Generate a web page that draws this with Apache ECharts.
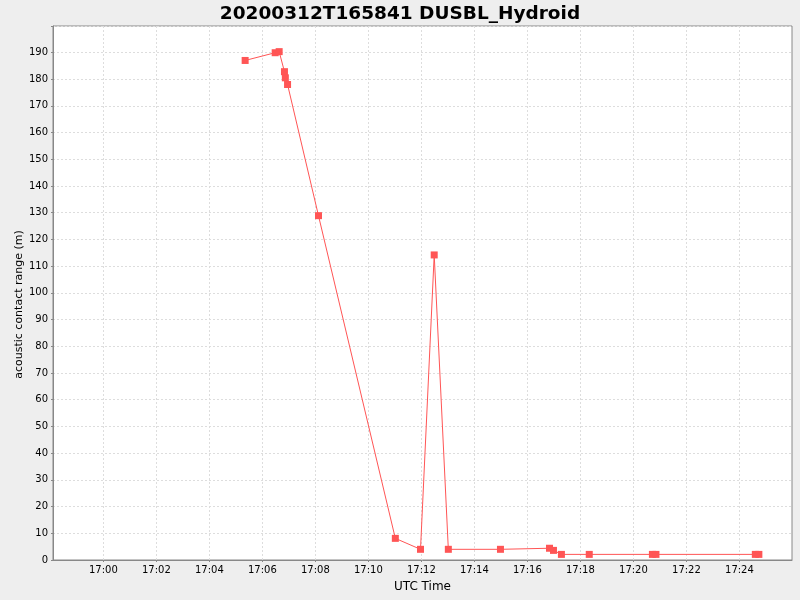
<!DOCTYPE html>
<html>
<head>
<meta charset="utf-8">
<script src="https://cdn.jsdelivr.net/npm/echarts@6/dist/echarts.min.js"></script>
<style>
  html, body { margin: 0; padding: 0; background: #eeeeee; }
  #main { width: 800px; height: 600px; }
</style>
</head>
<body>
<div id="main"></div>
<script>
'use strict';

/* ===== data (UTC, 2020-03-12) ===== */
var day = '2020-03-12';
var times = [
  '17:05:21', '17:06:29', '17:06:38', '17:06:50', '17:06:52', '17:06:57',
  '17:08:07', '17:11:01', '17:11:58', '17:12:29', '17:13:01', '17:14:59',
  '17:16:50', '17:16:59', '17:17:17', '17:18:20', '17:20:43', '17:20:51',
  '17:24:36', '17:24:44'
];
var ranges = [
  187, 189.9, 190.3, 182.8, 180.5, 178,
  128.9, 8.1, 4.0, 114.2, 4.0, 4.0,
  4.4, 3.6, 2.1, 2.1, 2.1, 2.1,
  2.1, 2.1
];
var tickTimes = [
  '17:00', '17:02', '17:04', '17:06', '17:08', '17:10', '17:12',
  '17:14', '17:16', '17:18', '17:20', '17:22', '17:24'
];
var axisStart = '16:58:06';
var axisEnd = '17:25:59';

function toMs(t) {
  if (t.length === 5) t = t + ':00';
  return Date.parse(day + 'T' + t + 'Z');
}

function pad(n) { return n < 10 ? '0' + n : '' + n; }

var points = times.map(function (t, i) { return [toMs(t), ranges[i]]; });
var tickValues = tickTimes.map(toMs);

var gridColor = '#dddddd';
var axisColor = '#888888';
var font = 'DejaVu Sans';

var myChart = echarts.init(document.getElementById('main'));

var option = {
  backgroundColor: '#eeeeee',
  animation: false,
  title: {
    text: '20200312T165841 DUSBL_Hydroid',
    left: 'center',
    top: 0,
    textStyle: { fontFamily: font, fontSize: 18.5, fontWeight: 'bold', color: '#000' }
  },
  grid: {
    left: 53, right: 8, top: 26, bottom: 40,
    outerBoundsMode: 'none',
    containLabel: false,
    show: true,
    backgroundColor: '#ffffff',
    borderColor: axisColor,
    borderWidth: 1
  },
  xAxis: {
    type: 'value',
    min: toMs(axisStart),
    max: toMs(axisEnd),
    name: 'UTC Time',
    nameLocation: 'middle',
    nameGap: 21,
    nameTextStyle: { fontFamily: font, fontSize: 12, color: '#000' },
    axisLine: { lineStyle: { color: axisColor } },
    axisTick: { show: true, length: 2, customValues: tickValues, lineStyle: { color: axisColor } },
    axisLabel: {
      customValues: tickValues,
      fontFamily: font, fontSize: 10, color: '#000', margin: 5,
      formatter: function (v) {
        var d = new Date(v);
        return pad(d.getUTCHours()) + ':' + pad(d.getUTCMinutes());
      }
    },
    splitLine: { show: true, lineStyle: { color: gridColor, type: [2, 2] } }
  },
  yAxis: {
    type: 'value',
    min: 0,
    max: 199.9,
    interval: 10,
    name: 'acoustic contact range (m)',
    nameLocation: 'middle',
    nameGap: 28,
    nameMoveOverlap: false,
    nameTextStyle: { fontFamily: font, fontSize: 11, color: '#000', padding: [0, 23, 0, 0] },
    axisLine: { show: true, lineStyle: { color: axisColor } },
    axisTick: { show: true, length: 2, lineStyle: { color: axisColor } },
    axisLabel: {
      fontFamily: font, fontSize: 10, color: '#000', margin: 5,
      formatter: function (v) {
        return (Math.abs(v % 10) < 1e-6) ? String(v) : '';
      }
    },
    splitLine: { show: true, lineStyle: { color: gridColor, type: [2, 2] } }
  },
  series: [
    {
      type: 'line',
      data: points,
      symbol: 'rect',
      symbolSize: 7,
      showAllSymbol: true,
      lineStyle: { color: '#ff5555', width: 1 },
      itemStyle: { color: '#ff5555' }
    }
  ]
};

myChart.setOption(option);
</script>
</body>
</html>
